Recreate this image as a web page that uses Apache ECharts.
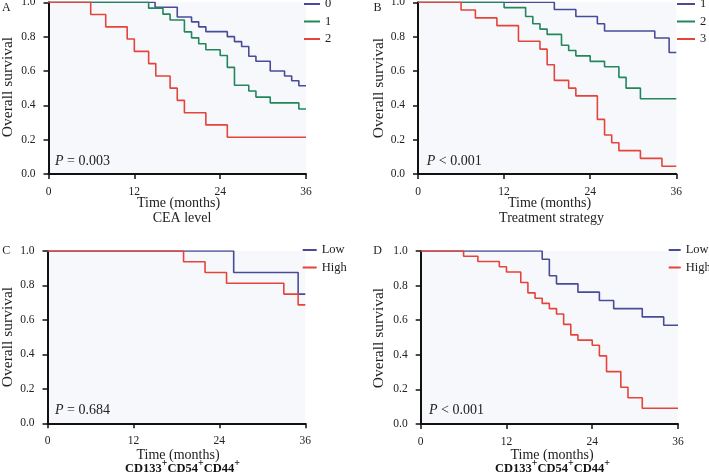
<!DOCTYPE html>
<html>
<head>
<meta charset="utf-8">
<script src="https://cdn.jsdelivr.net/npm/echarts@6/dist/echarts.min.js"></script>
<style>html,body{margin:0;padding:0;background:#fff}#c{width:709px;height:473px}</style>
</head>
<body>
<div id="c"></div>
<script>
// ---- Data (months, survival probability) ----
const xTicks = [0, 12, 24, 36];
const yTicks = [0, 0.2, 0.4, 0.6, 0.8, 1.0];

// Panel A: CEA level
const tA0 = [0, 14.9, 18, 20, 21, 22, 25, 26, 27, 28, 29, 31, 33, 34, 35, 36];
const sA0 = [1, 0.971, 0.914, 0.886, 0.857, 0.829, 0.8, 0.771, 0.743, 0.686, 0.657, 0.6, 0.571, 0.543, 0.514, 0.514];
const tA1 = [0, 14, 16, 17, 19, 20, 21, 22, 24, 25, 26, 28, 29, 31, 35, 36];
const sA1 = [1, 0.966, 0.931, 0.897, 0.828, 0.793, 0.759, 0.724, 0.69, 0.621, 0.517, 0.483, 0.448, 0.414, 0.379, 0.379];
const tA2 = [0, 5.9, 8, 11, 12, 14, 15, 17, 18, 19, 22, 25, 36];
const sA2 = [1, 0.929, 0.857, 0.786, 0.714, 0.643, 0.571, 0.5, 0.429, 0.357, 0.286, 0.214, 0.214];

// Panel B: Treatment strategy
const tB1 = [0, 19, 22, 25, 26, 33, 35, 36];
const sB1 = [1, 0.958, 0.917, 0.875, 0.833, 0.792, 0.708, 0.708];
const tB2 = [0, 12, 15, 16, 17, 18, 20, 21, 22, 24, 26, 28, 29, 31, 36];
const sB2 = [1, 0.969, 0.917, 0.875, 0.844, 0.813, 0.75, 0.719, 0.688, 0.656, 0.625, 0.563, 0.5, 0.438, 0.438];
const tB3 = [0, 6, 8, 11, 14, 17, 18, 19, 21, 22, 25, 26, 27, 28, 31, 34, 36];
const sB3 = [1, 0.955, 0.909, 0.864, 0.773, 0.727, 0.636, 0.545, 0.5, 0.455, 0.318, 0.227, 0.182, 0.136, 0.091, 0.045, 0.045];

// Panel C: CD133+CD54+CD44+ (P = 0.684)
const tCLow = [0, 26, 35, 36];
const sCLow = [1, 0.875, 0.75, 0.75];
const tCHigh = [0, 19, 22, 25, 33, 35, 36];
const sCHigh = [1, 0.9375, 0.875, 0.8125, 0.75, 0.6875, 0.6875];

// Panel D: CD133+CD54+CD44+ (P < 0.001)
const tDLow = [0, 17, 18, 19, 22, 25, 27, 31, 34, 36];
const sDLow = [1, 0.952, 0.857, 0.81, 0.762, 0.714, 0.667, 0.619, 0.571, 0.571];
const tDHigh = [0, 6, 8, 11, 12, 14, 15, 16, 17, 18, 19, 20, 21, 22, 24, 25, 26, 28, 29, 31, 36];
const sDHigh = [1, 0.97, 0.939, 0.909, 0.879, 0.818, 0.758, 0.727, 0.697, 0.667, 0.636, 0.576, 0.515, 0.485, 0.455, 0.394, 0.303, 0.212, 0.152, 0.091, 0.091];

// ---- Styling ----
const FONT = "'Liberation Serif','Times New Roman',serif";
const BLUE = '#4a4b96', GREEN = '#23875a', RED = '#e5443a';
const TXT = '#222';

const grids = [
  {left: 48.5, top: 2.3, width: 257.5, height: 171.7},
  {left: 418, top: 2.3, width: 258.3, height: 171.7},
  {left: 47.5, top: 251, width: 257.8, height: 172.3},
  {left: 420.7, top: 251, width: 257.3, height: 173}
].map(g => Object.assign(g, {show: true, backgroundColor: '#f6f8fc', borderWidth: 0, containLabel: false, outerBoundsMode: 'none'}));

const axisCommon = {
  axisLine: {show: true, onZero: false, lineStyle: {color: '#111', width: 2}},
  axisTick: {show: true, inside: false, length: 5, lineStyle: {color: '#111', width: 1.5}},
  splitLine: {show: false}
};
const xAxes = grids.map((g, i) => Object.assign({
  type: 'value', gridIndex: i, min: xTicks[0], max: xTicks[xTicks.length - 1], interval: 12,
  axisLabel: {fontFamily: FONT, fontSize: 11.5, color: TXT, margin: 12}
}, axisCommon));
const yAxes = grids.map((g, i) => Object.assign({
  type: 'value', gridIndex: i, min: yTicks[0], max: yTicks[yTicks.length - 1], interval: 0.2,
  axisLabel: {fontFamily: FONT, fontSize: 11.5, color: TXT, margin: 13, formatter: v => v.toFixed(1)}
}, axisCommon));

function km(name, idx, t, s, color) {
  return {
    name: name, type: 'line', step: 'end', xAxisIndex: idx, yAxisIndex: idx,
    symbol: 'none', data: t.map((x, i) => [x, s[i]]),
    lineStyle: {color: color, width: 1.6}, itemStyle: {color: color},
    animation: false, silent: true
  };
}
const series = [
  km('A_0', 0, tA0, sA0, BLUE), km('A_1', 0, tA1, sA1, GREEN), km('A_2', 0, tA2, sA2, RED),
  km('B_1', 1, tB1, sB1, BLUE), km('B_2', 1, tB2, sB2, GREEN), km('B_3', 1, tB3, sB3, RED),
  km('C_Low', 2, tCLow, sCLow, BLUE), km('C_High', 2, tCHigh, sCHigh, RED),
  km('D_Low', 3, tDLow, sDLow, BLUE), km('D_High', 3, tDHigh, sDHigh, RED)
];

function legend(names, left, top, w, fs) {
  return {
    data: names, left: left, top: top, orient: 'vertical', icon: 'rect', padding: 0,
    itemWidth: w, itemHeight: 2, itemGap: 2.5, selectedMode: false,
    formatter: n => n.split('_')[1],
    textStyle: {fontFamily: FONT, fontSize: fs, color: TXT, lineHeight: 15}
  };
}
const legends = [
  legend(['A_0', 'A_1', 'A_2'], 304, -3.5, 16, 12.5),
  legend(['B_1', 'B_2', 'B_3'], 677, -3.5, 18, 12.5),
  legend(['C_Low', 'C_High'], 302.7, 242.5, 14, 12.5),
  legend(['D_Low', 'D_High'], 668.7, 242.5, 12, 12.5)
];

function txt(x, y, text, size, extra) {
  return Object.assign({
    type: 'text', x: x, y: y, silent: true,
    style: Object.assign({text: text, fontFamily: FONT, fontSize: size, fill: TXT, align: 'center', verticalAlign: 'middle'}, (extra && extra.style) || {})
  }, extra && extra.rotation ? {rotation: extra.rotation} : {});
}
const richP = {i: {fontStyle: 'italic', fontFamily: FONT, fontSize: 14, fill: TXT}, n: {fontFamily: FONT, fontSize: 14, fill: TXT}};
function pText(x, y, s) {
  return {type: 'text', x: x, y: y, silent: true,
    style: {text: '{i|P}{n| ' + s + '}', rich: richP, fontFamily: FONT, fontSize: 14, fill: TXT, align: 'left', verticalAlign: 'middle'}};
}
const richCD = {
  b: {fontFamily: FONT, fontSize: 12.5, fontWeight: 'bold', fill: '#111', padding: [4, 0, 0, 0], verticalAlign: 'bottom'},
  s: {fontFamily: FONT, fontSize: 10, fontWeight: 'bold', fill: '#111', verticalAlign: 'top'}
};
function cdText(x, y) {
  return {type: 'text', x: x, y: y, silent: true,
    style: {text: '{b|CD133}{s|+}{b|CD54}{s|+}{b|CD44}{s|+}', rich: richCD, fontFamily: FONT, fontSize: 12.5, fill: '#111', align: 'center', verticalAlign: 'middle'}};
}
const R = -Math.PI / 2;
const graphics = [
  txt(6.3, 8.3, 'A', 12), txt(377.5, 8, 'B', 12), txt(6.3, 251, 'C', 12), txt(377.7, 251, 'D', 12),
  txt(7.8, 87, 'Overall survival', 15.5, {rotation: -R}),
  txt(378.5, 88, 'Overall survival', 15.5, {rotation: -R}),
  txt(7.8, 337, 'Overall survival', 15.5, {rotation: -R}),
  txt(379, 338, 'Overall survival', 15.5, {rotation: -R}),
  txt(178.5, 203, 'Time (months)', 14), txt(182, 218.3, 'CEA level', 14),
  txt(549.5, 203, 'Time (months)', 14), txt(551.5, 218.3, 'Treatment strategy', 14),
  txt(178, 455.5, 'Time (months)', 14), cdText(182.5, 467),
  txt(552, 455.5, 'Time (months)', 14), cdText(552.5, 467),
  pText(55, 161.7, '= 0.003'), pText(426.7, 161.7, '< 0.001'),
  pText(55, 410, '= 0.684'), pText(429, 410, '< 0.001')
];

const chart = echarts.init(document.getElementById('c'), null, {renderer: 'canvas'});
chart.setOption({
  animation: false,
  backgroundColor: '#ffffff',
  grid: grids, xAxis: xAxes, yAxis: yAxes,
  legend: legends, series: series, graphic: graphics
});
</script>
</body>
</html>
